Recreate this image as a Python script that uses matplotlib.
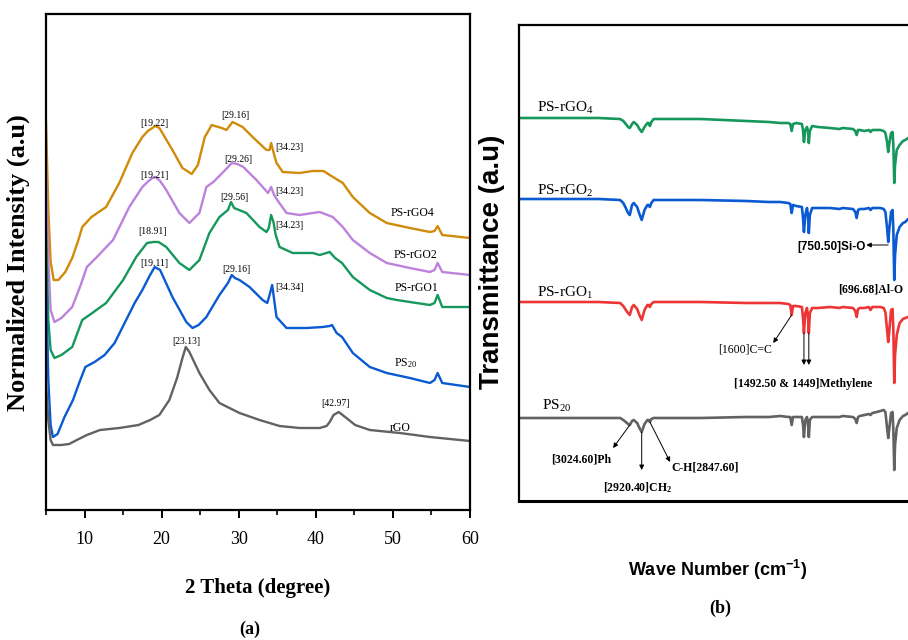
from matplotlib import pyplot as plt

# ---------------- data: XRD (panel a), stacked normalized intensity ----------------
rgo4_x = [5.0, 5.3, 5.6, 6.0, 6.6, 7.5, 8.4, 9.2, 9.7, 10.9, 12.8, 14.5, 16.2, 17.5, 18.2, 18.8,
          19.2, 19.7, 20.1, 21.4, 22.7, 23.9, 24.7, 25.6, 26.5, 27.8, 28.4, 29.2, 30.5, 31.8,
          33.6, 34.0, 34.2, 34.5, 34.9, 35.7, 37.9, 39.6, 41.0, 41.8, 43.5, 44.8, 47.0, 49.2,
          52.2, 54.8, 55.4, 55.8, 56.4, 60.0]
rgo4_y = [388, 300, 248, 230, 230, 238, 252, 270, 283, 293, 303, 327, 357, 373, 379, 382,
          384, 382, 377, 360, 342, 336, 345, 373, 385, 382, 380, 388, 383, 373,
          360, 360, 367, 358, 347, 338, 337, 339, 339, 335, 327, 313, 297, 287,
          282, 278, 279, 284, 275, 272]

rgo2_x = [5.0, 5.3, 5.6, 6.1, 7.0, 8.4, 9.5, 10.3, 11.6, 13.7, 15.8, 17.5, 18.3, 18.8, 19.2,
          19.8, 20.6, 22.3, 23.6, 24.9, 25.8, 26.7, 28.0, 29.1, 29.8, 30.6, 32.3, 33.8, 34.2,
          34.6, 35.0, 36.2, 37.9, 40.5, 42.2, 43.5, 44.8, 47.0, 49.2, 52.2, 54.8, 55.4, 55.8,
          56.4, 60.0]
rgo2_y = [338, 250, 200, 188, 192, 203, 225, 243, 253, 270, 303, 323, 329, 332, 333,
          329, 320, 297, 287, 297, 323, 328, 338, 347, 346, 343, 330, 317, 323,
          315, 310, 297, 295, 298, 293, 283, 270, 257, 247, 242, 238, 240, 247,
          238, 235]

rgo1_x = [5.0, 5.3, 5.6, 6.1, 7.0, 8.4, 9.7, 11.0, 12.8, 15.0, 16.7, 18.1, 18.9, 19.6, 20.6,
          22.3, 23.6, 24.9, 26.2, 27.5, 28.6, 29.0, 29.4, 31.0, 32.7, 33.6, 33.9, 34.2, 34.5,
          34.8, 35.3, 37.0, 39.6, 40.5, 41.8, 42.5, 43.4, 44.8, 47.0, 49.2, 50.5, 52.2, 54.8,
          55.4, 55.8, 56.4, 60.0]
rgo1_y = [280, 190, 160, 152, 155, 163, 190, 197, 207, 230, 253, 267, 268, 268, 263,
          247, 240, 250, 277, 293, 300, 308, 302, 297, 283, 278, 282, 295, 288,
          275, 263, 257, 257, 255, 258, 252, 247, 233, 220, 212, 210, 208, 205,
          207, 215, 203, 203]

ps20_x = [5.0, 5.3, 5.6, 5.9, 6.5, 7.4, 8.5, 9.3, 10.1, 11.3, 12.6, 13.9, 15.2, 16.5, 17.5,
          18.5, 19.1, 19.8, 21.4, 23.2, 24.0, 24.8, 25.8, 27.5, 28.6, 29.1, 29.5, 30.1, 31.4,
          33.1, 33.7, 34.0, 34.34, 34.6, 34.9, 36.2, 38.8, 40.9, 41.8, 42.1, 42.7, 43.4, 44.8,
          47.0, 49.2, 52.2, 54.8, 55.4, 55.8, 56.4, 60.0]
ps20_y = [238, 130, 85, 73, 76, 93, 110, 127, 143, 148, 155, 167, 187, 207, 220,
          235, 243, 240, 213, 188, 182, 185, 193, 215, 227, 235, 232, 230, 223,
          210, 207, 215, 225, 210, 193, 182, 182, 183, 184, 185, 177, 173, 157,
          143, 137, 132, 127, 130, 137, 127, 123]

rgo_x = [5.0, 5.3, 5.6, 5.9, 7.0, 8.0, 9.0, 10.3, 12.0, 14.5, 17.0, 18.5, 19.7, 21.0, 22.0,
         22.7, 23.13, 23.6, 24.9, 26.2, 27.5, 30.1, 32.7, 35.3, 37.9, 40.5, 41.4, 41.8, 42.3,
         42.97, 43.8, 45.1, 47.0, 50.9, 54.8, 60.0]
rgo_y = [127, 90, 70, 65, 65, 66, 70, 75, 80, 82, 85, 90, 95, 110, 132,
         152, 163, 158, 137, 120, 107, 97, 90, 84, 82, 82, 84, 88, 95,
         98, 93, 85, 80, 77, 73, 69]

xrd_series = [
    (rgo4_x, rgo4_y, '#D08B0B'),
    (rgo2_x, rgo2_y, '#BD82DC'),
    (rgo1_x, rgo1_y, '#16975C'),
    (ps20_x, ps20_y, '#0A5AD2'),
    (rgo_x, rgo_y, '#626262'),
]

# peak tags: text, 2theta, height
xrd_tags = [
    ('[19.22]', 19.1, 387), ('[29.16]', 29.6, 394),
    ('[19.21]', 19.1, 335), ('[29.26]', 29.9, 351),
    ('[18.91]', 18.8, 278), ('[29.56]', 29.5, 312),
    ('[19.11]', 19.1, 247), ('[29.16]', 29.7, 240),
    ('[23.13]', 23.25, 168), ('[42.97]', 42.6, 107),
]
xrd_tags_left = [('[34.23]', 34.8, 363), ('[34.23]', 34.7, 319),
                 ('[34.23]', 34.8, 284), ('[34.34]', 34.7, 223)]
xrd_names = [('PS-rGO4', 52.5, 297), ('PS-rGO2', 52.9, 255), ('PS-rGO1', 53.1, 222),
             ('PS$_{20}$', 51.7, 147), ('rGO', 51.0, 82)]

# ---------------- data: FTIR (panel b), stacked transmittance ----------------
wn = [4000, 3300, 3110, 3082, 3060, 3040, 3025, 3005, 2990, 2960,
      2940, 2920, 2895, 2870, 2860, 2848, 2835, 2815, 2700, 2400,
      2000, 1800, 1700, 1630, 1612, 1600, 1588, 1560, 1510, 1500,
      1492, 1480, 1465, 1455, 1449, 1440, 1420, 1370, 1260, 1180,
      1150, 1060, 1040, 1028, 1015, 1000, 960, 920, 906, 890,
      850, 820, 790, 775, 760, 750, 740, 725, 712, 705,
      697, 690, 675, 650, 620, 600, 575, 540, 500, 450, 400]
t_rgo4 = [383, 383, 382, 380, 377, 374, 373, 377, 379, 376,
          372, 369, 374, 378, 378, 375, 379, 382, 382, 382,
          380, 379, 378, 378, 377, 370, 377, 378, 377, 371,
          359, 371, 374, 369, 358, 370, 375, 374, 373, 372,
          373, 372, 370, 366, 371, 371, 370, 371, 369, 371,
          371, 371, 370, 368, 359, 349, 358, 368, 369, 356,
          318, 336, 351, 356, 360, 361, 363, 364, 364, 364, 364]
t_rgo2 = [302, 302, 301, 298, 293, 288, 286, 296, 298, 294,
          287, 281, 291, 296, 296, 294, 298, 301, 301, 301,
          300, 299, 299, 298, 297, 288, 296, 295, 294, 283,
          269, 286, 293, 283, 268, 286, 293, 293, 293, 292,
          293, 292, 289, 283, 291, 292, 292, 293, 291, 293,
          293, 293, 292, 289, 273, 259, 273, 289, 291, 271,
          221, 246, 266, 274, 278, 279, 282, 283, 283, 283, 283]
t_rgo1 = [199, 199, 198, 195, 191, 188, 186, 194, 196, 192,
          186, 181, 191, 196, 196, 194, 197, 199, 199, 199,
          198, 198, 198, 197, 196, 186, 195, 195, 194, 183,
          168, 188, 193, 183, 168, 188, 193, 193, 194, 193,
          194, 193, 190, 184, 192, 193, 193, 194, 191, 194,
          194, 194, 193, 189, 171, 159, 171, 191, 192, 171,
          118, 146, 166, 178, 182, 183, 184, 185, 185, 185, 185]
t_ps20 = [83, 83, 83, 81, 79, 77, 76, 80, 81, 78,
          73, 69, 77, 81, 81, 79, 82, 83, 83, 83,
          84, 84, 85, 84, 84, 76, 84, 84, 84, 76,
          64, 81, 84, 76, 64, 81, 84, 84, 84, 84,
          85, 84, 82, 78, 84, 85, 86, 87, 86, 88,
          89, 90, 91, 89, 73, 63, 73, 88, 89, 71,
          31, 56, 73, 81, 85, 86, 88, 88, 88, 88, 88]

ftir_series = [(t_rgo4, '#16975C'), (t_rgo2, '#0A5AD2'), (t_rgo1, '#EE3535'), (t_ps20, '#626262')]
ftir_names = [('PS-rGO$_4$', 3841, 389), ('PS-rGO$_2$', 3841, 306),
              ('PS-rGO$_1$', 3841, 204), ('PS$_{20}$', 3797, 91)]

SERIF = 'Liberation Serif'
SANS = 'Liberation Sans'
plt.rcParams['mathtext.default'] = 'regular'

fig = plt.figure(figsize=(9.08, 6.4), dpi=100)

# ---------------- panel (a) ----------------
ax1 = fig.add_axes([46/908, 130/640, 424/908, 496/640])
for xs, ys, c in xrd_series:
    ax1.plot(xs, ys, color=c, lw=1.7, solid_joinstyle='round')
ax1.set_xlim(5, 60)
ax1.set_ylim(0, 496)
ax1.set_yticks([])
ax1.set_xticks([10, 20, 30, 40, 50, 60])
ax1.set_xticks([5, 15, 25, 35, 45, 55], minor=True)
ax1.tick_params(axis='x', which='major', direction='out', length=6, width=1.4, pad=9,
                labelsize=13)
ax1.tick_params(axis='x', which='minor', direction='out', length=3.5, width=1.2)
for lab in ax1.get_xticklabels():
    lab.set_family(SERIF)
for s in ax1.spines.values():
    s.set_linewidth(1.6)

for t, x, y in xrd_tags:
    ax1.text(x, y, t, ha='center', va='center', fontsize=7, family=SERIF)
for t, x, y in xrd_tags_left:
    ax1.text(x, y, t, ha='left', va='center', fontsize=7, family=SERIF)
for t, x, y in xrd_names:
    ax1.text(x, y, t, ha='center', va='center', fontsize=8.5, family=SERIF)

fig.text(18/908, 0.589, 'Normalized Intensity (a.u)', rotation=90, ha='center', va='center',
         fontsize=19, fontweight='bold', family=SERIF)
fig.text(258/908, 1 - 588/640, '2 Theta (degree)', ha='center', va='center',
         fontsize=15, fontweight='bold', family=SERIF)
fig.text(250/908, 1 - 629/640, '(a)', ha='center', va='center',
         fontsize=13, fontweight='bold', family=SERIF)

# ---------------- panel (b) ----------------
ax2 = fig.add_axes([519/908, 139/640, 409/908, 476/640])
for ys, c in ftir_series:
    ax2.plot(wn, ys, color=c, lw=1.9, solid_joinstyle='round')
ax2.set_xlim(4000, 400)
ax2.set_ylim(0, 476)
ax2.set_xticks([])
ax2.set_yticks([])
ax2.spines['left'].set_linewidth(1.6)
ax2.spines['top'].set_linewidth(1.6)
ax2.spines['bottom'].set_linewidth(2.2)

for t, x, y in ftir_names:
    ax2.text(x, y, t, ha='left', va='baseline', fontsize=11, family=SERIF)

arrow = dict(arrowstyle='-|>', color='black', lw=0.7, mutation_scale=7, shrinkA=0, shrinkB=0)
ax2.annotate('', xy=(943, 256), xytext=(750, 256), arrowprops=arrow)
ax2.text(950, 254, '[750.50]Si-O', ha='right', va='center', fontsize=8.5,
         fontweight='bold', family=SANS)
ax2.text(1190, 211, '[696.68]Al-O', ha='left', va='center', fontsize=8.5,
         fontweight='bold', family=SERIF)

ax2.annotate('', xy=(1762, 158), xytext=(1600, 186), arrowprops=arrow)
ax2.text(1771, 152, '[1600]C=C', ha='right', va='center', fontsize=8.5, family=SERIF)
ax2.annotate('', xy=(1492, 136), xytext=(1492, 168), arrowprops=arrow)
ax2.annotate('', xy=(1449, 136), xytext=(1449, 168), arrowprops=arrow)
ax2.text(1498, 117, '[1492.50 & 1449]Methylene', ha='center', va='center', fontsize=8.5,
         fontweight='bold', family=SERIF)

ax2.annotate('', xy=(3172, 53), xytext=(3025, 76), arrowprops=arrow)
ax2.text(3454, 41, '[3024.60]Ph', ha='center', va='center', fontsize=8.5,
         fontweight='bold', family=SERIF)
ax2.annotate('', xy=(2920, 31), xytext=(2920, 69), arrowprops=arrow)
ax2.text(2960, 13, '[2920.40]CH$_2$', ha='center', va='center', fontsize=8.5,
         fontweight='bold', family=SERIF)
ax2.annotate('', xy=(2670, 39), xytext=(2848, 79), arrowprops=arrow)
ax2.text(2361, 34, 'C-H[2847.60]', ha='center', va='center', fontsize=8.5,
         fontweight='bold', family=SERIF)

fig.text(492/908, 1 - 262/640, 'Transmittance (a.u)', rotation=90, ha='center', va='center',
         fontsize=20, fontweight='bold', family=SANS)
fig.text(718/908, 1 - 570/640, 'Wave Number (cm$^{-1}$)', ha='center', va='center',
         fontsize=13, fontweight='bold', family=SANS)
fig.text(720/908, 1 - 608/640, '(b)', ha='center', va='center',
         fontsize=13, fontweight='bold', family=SERIF)

fig.savefig('out.png', dpi=100)
